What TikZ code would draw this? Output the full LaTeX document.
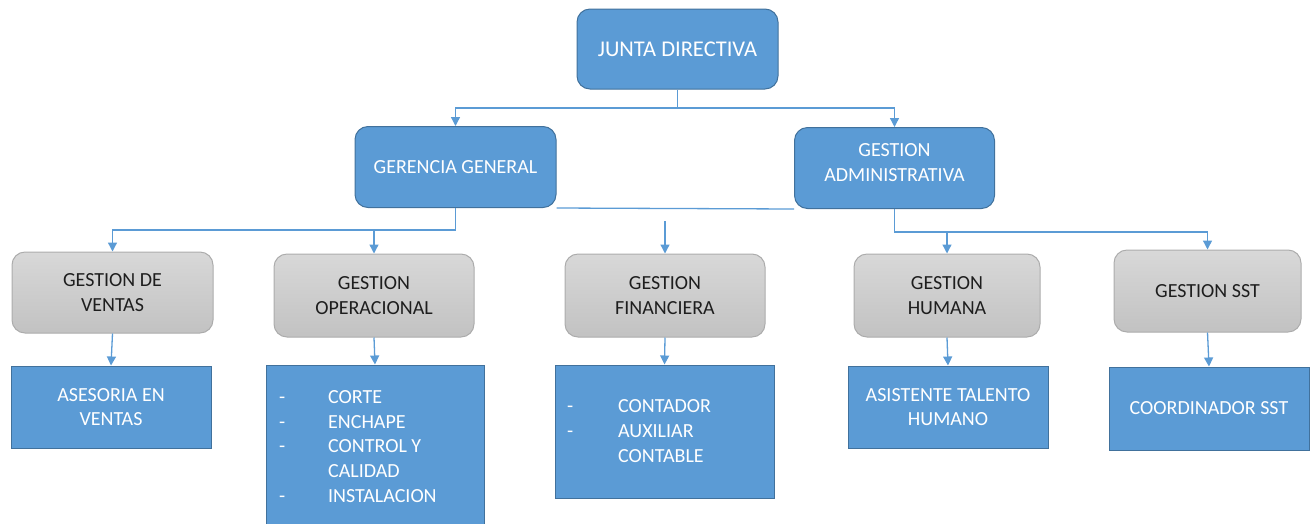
\documentclass[tikz,border=0pt]{standalone}
\usepackage{fontspec}
\setmainfont{Carlito}
\usetikzlibrary{arrows.meta}
\definecolor{cblue}{RGB}{91,155,213}
\definecolor{cblueedge}{RGB}{65,113,156}
\definecolor{cgraytop}{RGB}{216,216,216}
\definecolor{cgraybot}{RGB}{194,194,194}
\definecolor{cgrayedge}{RGB}{172,172,172}
\definecolor{ctext}{RGB}{30,30,30}
\begin{document}
\begin{tikzpicture}[x=1pt,y=-1pt,
  font=\fontsize{20}{24.8}\selectfont,
  topbox/.style={draw=cblueedge, line width=1pt, fill=cblue, rounded corners=13pt, text=white, align=center, inner sep=0pt},
  graybox/.style={draw=cgrayedge, line width=1pt, top color=cgraytop, bottom color=cgraybot, rounded corners=13pt, text=ctext, align=center, inner sep=0pt},
  bluebox/.style={draw=cblueedge, line width=1pt, fill=cblue, text=white, align=center, inner sep=0pt},
  listtext/.style={text=white, align=left, inner sep=0pt, anchor=west},
  conn/.style={draw=cblue, line width=1.3pt, -{Triangle[width=9pt,length=9pt]}},
  wire/.style={draw=cblue, line width=1.3pt}]
\useasboundingbox (0,0) rectangle (1311,523);
\begin{scope}
\clip (0,0) rectangle (1311,523);
% top level
\node[topbox, minimum width=201pt, minimum height=80pt, font=\fontsize{22.5}{27}\selectfont] (junta) at (677.5,49) {JUNTA DIRECTIVA};
\node[topbox, minimum width=201pt, minimum height=81pt] (gg) at (455.5,167) {GERENCIA GENERAL};
\node[topbox, minimum width=200pt, minimum height=81pt] (ga) at (894.5,168) {\raisebox{4pt}[\height][\depth]{\begin{tabular}{@{}c@{}}GESTION\\ADMINISTRATIVA\end{tabular}}};
% gray level
\node[graybox, minimum width=201pt, minimum height=81pt] (ventas) at (112.5,292.5) {GESTION DE\\VENTAS};
\node[graybox, minimum width=200pt, minimum height=83pt] (oper) at (374,295.5) {GESTION\\OPERACIONAL};
\node[graybox, minimum width=200pt, minimum height=83pt] (fin) at (665,295.5) {GESTION\\FINANCIERA};
\node[graybox, minimum width=186pt, minimum height=83pt] (hum) at (947,295.5) {GESTION\\HUMANA};
\node[graybox, minimum width=187pt, minimum height=82pt] (sst) at (1207.5,291) {GESTION SST};
% bottom level
\node[bluebox, minimum width=200pt, minimum height=82pt] (asesoria) at (111,407) {ASESORIA EN\\VENTAS};
\node[bluebox, minimum width=218pt, minimum height=165pt] (operbox) at (375,447.5) {};
\node[listtext] (operitems) at (279,446.5) {\makebox[49pt][l]{-}CORTE\\\makebox[49pt][l]{-}ENCHAPE\\\makebox[49pt][l]{-}CONTROL Y\\\hspace*{49pt}CALIDAD\\\makebox[49pt][l]{-}INSTALACION};
\node[bluebox, minimum width=219pt, minimum height=133pt] (finbox) at (664.5,431.5) {};
\node[listtext] (finitems) at (567,431) {\makebox[51pt][l]{-}CONTADOR\\\makebox[51pt][l]{-}AUXILIAR\\\hspace*{51pt}CONTABLE};
\node[bluebox, minimum width=200pt, minimum height=82pt] (asistente) at (948,407) {ASISTENTE TALENTO\\HUMANO};
\node[bluebox, minimum width=200pt, minimum height=83pt] (coord) at (1209,408.5) {COORDINADOR SST};
% connectors
\coordinate (b1) at (0,108);
\coordinate (b2) at (0,230);
\coordinate (b3) at (0,232);
\coordinate (f0) at (665,221);
\draw[conn] (junta.south) -- (junta.south |- b1) -| (gg.north);
\draw[conn] (junta.south |- b1) -| (ga.north);
\draw[conn] (gg.south) -- (gg.south |- b2) -| (ventas.north);
\draw[conn] (gg.south |- b2) -| (oper.north);
\draw[wire] (gg.south east) -- (ga.south west);
\draw[conn] (f0) -- (fin.north);
\draw[conn] (ga.south) -- (ga.south |- b3) -| (hum.north);
\draw[conn] (ga.south |- b3) -| (sst.north);
\draw[conn] (ventas.south) -- (asesoria.north);
\draw[conn] (oper.south) -- (operbox.north);
\draw[conn] (fin.south) -- (finbox.north);
\draw[conn] (hum.south) -- (asistente.north);
\draw[conn] (sst.south) -- (coord.north);
\end{scope}
\end{tikzpicture}
\end{document}
